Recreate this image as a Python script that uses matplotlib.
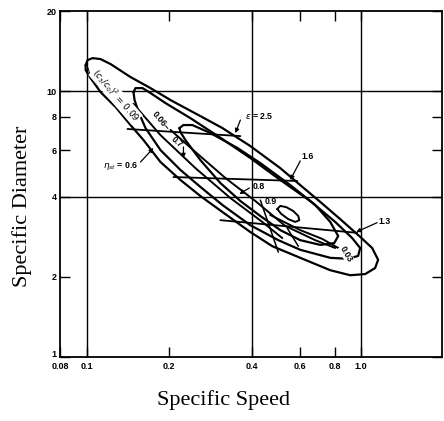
import matplotlib
matplotlib.use('Agg')
import matplotlib.pyplot as plt

# ---------------- data ----------------
x_ticks = [0.08, 0.1, 0.2, 0.4, 0.6, 0.8, 1.0]
x_tick_labels = ['0.08', '0.1', '0.2', '0.4', '0.6', '0.8', '1.0']
y_ticks = [1, 2, 4, 6, 8, 10, 20]
y_tick_labels = ['1', '2', '4', '6', '8', '10', '20']
grid_x = [0.1, 0.4, 1.0]
grid_y = [4, 10]

# efficiency contours (closed), specific speed / specific diameter
eta_06_ns = [0.0992, 0.1008, 0.1052, 0.1124, 0.1223, 0.1445, 0.1709, 0.2021, 0.2597, 0.3123,
             0.3948, 0.5076, 0.600, 0.7096, 0.8387, 0.9917, 1.0965, 1.153, 1.124, 1.034,
             0.912, 0.7716, 0.600, 0.4747, 0.3948, 0.3123, 0.2597, 0.2197, 0.1858, 0.1612,
             0.1445, 0.1275, 0.1124, 0.1034, 0.0992, 0.0992]
eta_06_ds = [12.52, 13.08, 13.30, 13.19, 12.63, 11.29, 10.26, 9.25, 8.05, 7.26,
             6.21, 5.13, 4.43, 3.83, 3.30, 2.83, 2.57, 2.32, 2.16, 2.05,
             2.03, 2.12, 2.36, 2.61, 2.95, 3.51, 4.03, 4.63, 5.41, 6.54,
             7.45, 8.71, 9.91, 11.19, 11.99, 12.52]

eta_07_ns = [0.1482, 0.1507, 0.1598, 0.1709, 0.1938, 0.2388, 0.3123, 0.3948, 0.5076, 0.6523,
             0.8044, 0.9275, 0.9917, 0.975, 0.897, 0.7716, 0.600, 0.4991, 0.3948, 0.3123,
             0.2597, 0.2197, 0.1858, 0.1639, 0.1546, 0.1495, 0.1482]
eta_07_ds = [9.91, 10.26, 10.26, 9.83, 9.01, 7.91, 6.60, 5.60, 4.63, 3.86,
             3.22, 2.80, 2.57, 2.40, 2.34, 2.36, 2.53, 2.75, 3.13, 3.73,
             4.36, 5.05, 6.00, 7.26, 8.34, 9.25, 9.91]

eta_08_ns = [0.2179, 0.2253, 0.2429, 0.2825, 0.3541, 0.4293, 0.5518, 0.6803, 0.7716, 0.8249,
             0.7976, 0.7096, 0.600, 0.5076, 0.4293, 0.3631, 0.3071, 0.2597, 0.2291, 0.2197,
             0.2179]
eta_08_ds = [7.26, 7.45, 7.45, 6.95, 6.11, 5.36, 4.43, 3.73, 3.22, 2.85,
             2.68, 2.64, 2.75, 3.00, 3.39, 3.86, 4.51, 5.50, 6.54, 7.01,
             7.26]

eta_09_ns = [0.4949, 0.5076, 0.5337, 0.5656, 0.5903, 0.5952, 0.5754, 0.5426, 0.5119, 0.4949]
eta_09_ds = [3.60, 3.70, 3.66, 3.54, 3.39, 3.27, 3.22, 3.30, 3.45, 3.60]

# (c3/c0)^2 lines
c09_thin_ns = [0.100, 0.1034, 0.1106, 0.1223, 0.1352, 0.1482]
c09_thin_ds = [12.63, 11.39, 10.44, 9.83, 9.33, 8.94]
c09_ns = [0.1482, 0.1858, 0.2491, 0.3340, 0.4365, 0.5161]
c09_ds = [8.94, 6.83, 5.13, 3.96, 3.22, 2.80]
c06_ns = [0.2021, 0.2491, 0.3203, 0.4116, 0.5292, 0.6803, 0.8044]
c06_ds = [7.14, 5.90, 4.71, 3.86, 3.11, 2.75, 2.57]
c03_ns = [0.4667, 0.600, 0.7215, 0.8249]
c03_ds = [3.42, 3.00, 2.78, 2.57]

# epsilon lines (start, end)
eps_25_ns = [0.1409, 0.3631]
eps_25_ds = [7.20, 6.77]
eps_16_ns = [0.2072, 0.5852]
eps_16_ds = [4.75, 4.59]
eps_13_ns = [0.3071, 0.9672]
eps_13_ds = [3.27, 2.93]

# short crossing strokes
cross1_ns = [0.4293, 0.4991]
cross1_ds = [3.89, 2.48]
cross2_ns = [0.5383, 0.5903]
cross2_ds = [3.05, 2.61]

# ---------------- figure ----------------
fig = plt.figure(figsize=(4.44, 4.21), dpi=100)
ax = fig.add_axes([60 / 444, 1 - 357 / 421, 382 / 444, 346 / 421])
ax.set_xscale('log')
ax.set_yscale('log')
ax.set_xlim(0.08, 1.97)
ax.set_ylim(1, 20)

for v in grid_x:
    ax.axvline(v, color='black', lw=1.0, zorder=1)
for v in grid_y:
    ax.axhline(v, color='black', lw=1.0, zorder=1)

k = dict(color='black', solid_capstyle='round', solid_joinstyle='round', zorder=3)
ax.plot(eta_06_ns, eta_06_ds, lw=1.6, **k)
ax.plot(eta_07_ns, eta_07_ds, lw=1.6, **k)
ax.plot(eta_08_ns, eta_08_ds, lw=1.6, **k)
ax.plot(eta_09_ns, eta_09_ds, lw=1.4, **k)
ax.plot(c09_thin_ns, c09_thin_ds, lw=0.7, **k)
ax.plot(c09_ns, c09_ds, lw=1.4, **k)
ax.plot(c06_ns, c06_ds, lw=1.4, **k)
ax.plot(c03_ns, c03_ds, lw=1.4, **k)
ax.plot(eps_25_ns, eps_25_ds, lw=1.3, **k)
ax.plot(eps_16_ns, eps_16_ds, lw=1.3, **k)
ax.plot(eps_13_ns, eps_13_ds, lw=1.3, **k)
ax.plot(cross1_ns, cross1_ds, lw=1.1, **k)
ax.plot(cross2_ns, cross2_ds, lw=1.1, **k)

# ticks
ax.xaxis.set_major_locator(plt.FixedLocator(x_ticks))
ax.xaxis.set_major_formatter(plt.FixedFormatter(x_tick_labels))
ax.xaxis.set_minor_locator(plt.NullLocator())
ax.yaxis.set_major_locator(plt.FixedLocator(y_ticks))
ax.yaxis.set_major_formatter(plt.FixedFormatter(y_tick_labels))
ax.yaxis.set_minor_locator(plt.NullLocator())
ax.tick_params(which='major', direction='in', length=7, width=1.0,
               top=True, right=True, labelsize=6.5)
ax.tick_params(axis='x', pad=3.5)
ax.tick_params(axis='y', pad=2.5)
for lab in ax.get_xticklabels() + ax.get_yticklabels():
    lab.set_fontweight('bold')
    lab.set_family('Liberation Sans')
ax.yaxis.get_major_ticks()[0].label1.set_verticalalignment('baseline')
for s in ax.spines.values():
    s.set_linewidth(1.3)

# in-chart labels
lk = dict(fontsize=6.3, fontweight='bold', family='Liberation Sans', color='black',
          ha='center', va='center', zorder=5)
ax.text(0.1275, 9.66, r'$(c_3/c_0)^2$ = 0.09', rotation=-49, fontsize=6.3,
        color='black', ha='center', va='center', zorder=5,
        bbox=dict(facecolor='white', edgecolor='none', pad=0.3))
ax.text(0.1858, 7.71, '0.06–', rotation=-50, **lk)
ax.text(0.2125, 6.43, '0.7', rotation=-40, **lk)
ax.text(0.1329, 5.22, r'$\eta_{st}$ = 0.6', **lk)
ax.text(0.4256, 8.05, r'$\epsilon$ = 2.5', **lk)
ax.text(0.6363, 5.65, '1.6', **lk)
ax.text(0.422, 4.36, '0.8', **lk)
ax.text(0.4667, 3.83, '0.9', **lk)
ax.text(1.222, 3.22, '1.3', **lk)
ax.text(0.882, 2.44, '0.03', rotation=-60,
        bbox=dict(facecolor='white', edgecolor='none', pad=0.2), **lk)

ap = dict(arrowstyle='-|>', color='black', lw=0.9, mutation_scale=6,
          shrinkA=0, shrinkB=0)
ax.annotate('', xy=(0.1752, 6.11), xytext=(0.1572, 5.41), arrowprops=ap, zorder=5)
ax.annotate('', xy=(0.2253, 5.6), xytext=(0.2253, 6.16), arrowprops=ap, zorder=5)
ax.annotate('', xy=(0.3482, 6.95), xytext=(0.3631, 7.78), arrowprops=ap, zorder=5)
ax.annotate('', xy=(0.5518, 4.63), xytext=(0.600, 5.46), arrowprops=ap, zorder=5)
ax.annotate('', xy=(0.3602, 4.10), xytext=(0.3915, 4.32), arrowprops=ap, zorder=5)
ax.annotate('', xy=(0.959, 2.95), xytext=(1.143, 3.20), arrowprops=ap, zorder=5)

# axis titles
fig.text(223 / 444, 1 - 400 / 421, 'Specific Speed', family='Liberation Serif',
         fontsize=16, ha='center', va='center')
fig.text(22 / 444, 1 - 206 / 421, 'Specific Diameter', family='Liberation Serif',
         fontsize=16, ha='center', va='center', rotation=90)

fig.savefig('out.png', dpi=100, facecolor='white')
